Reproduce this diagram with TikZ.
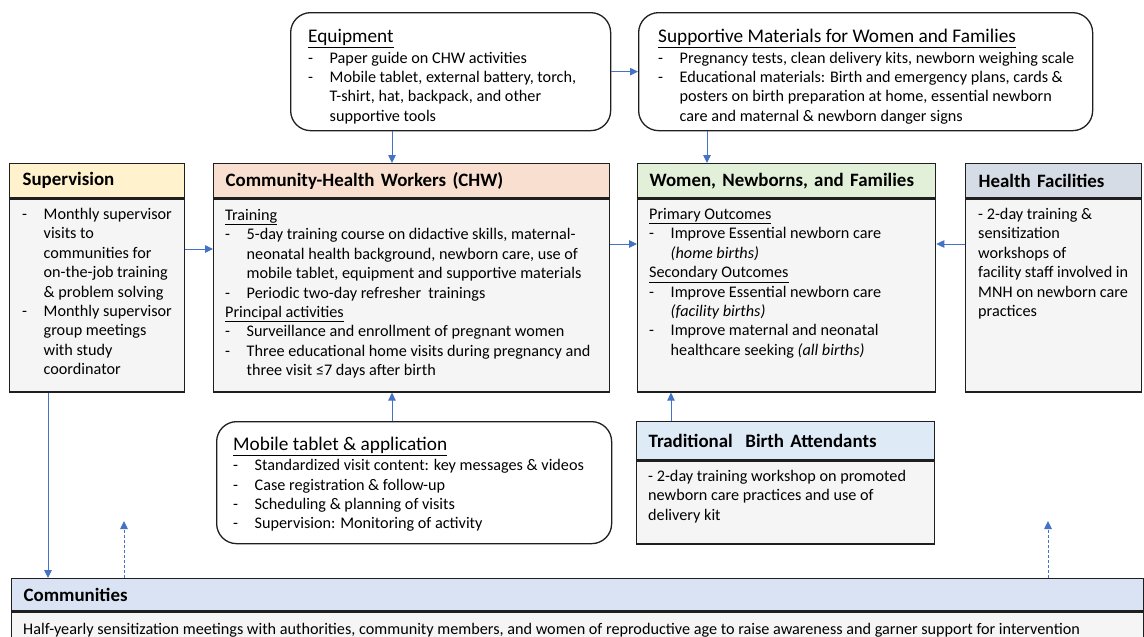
\documentclass[tikz,border=0pt]{standalone}
\usepackage{fontspec}
\setmainfont{Carlito}
\usetikzlibrary{arrows.meta,positioning}

\definecolor{arrblue}{HTML}{4472C4}
\definecolor{bodygray}{HTML}{F5F5F5}
\definecolor{edgegray}{HTML}{1F1F1F}
\definecolor{supyellow}{HTML}{FFF2CC}
\definecolor{chwpeach}{HTML}{F9DFCF}
\definecolor{womgreen}{HTML}{E2F0D9}
\definecolor{hfgray}{HTML}{D6DCE5}
\definecolor{tbablue}{HTML}{DEEBF7}
\definecolor{comblue}{HTML}{DAE3F3}

\newcommand{\bodyfont}{\fontsize{16.2pt}{19.4pt}\selectfont}
\newcommand{\headfont}{\fontsize{18.9pt}{21pt}\selectfont\bfseries}
\newcommand{\titlefont}{\fontsize{19.3pt}{21pt}\selectfont}
\newcommand{\dsh}{\makebox[21.5pt][l]{-}}
\newcommand{\ind}{\hspace*{21.5pt}}
\newcommand{\fl}{\rule{0pt}{16pt}}

\begin{document}
\begin{tikzpicture}[x=1pt, y=-1pt,
    head/.style={draw=edgegray, line width=1.3pt, anchor=north west, inner ysep=0pt, font=\headfont, align=left},
    frame/.style={draw=edgegray, line width=1.3pt, fill=bodygray, anchor=north west, inner sep=0pt},
    roundbox/.style={draw=edgegray, line width=1.3pt, fill=white, rounded corners=20pt, anchor=north west, inner sep=0pt},
    txt/.style={anchor=north west, align=left, inner sep=0pt, font=\bodyfont},
    arr/.style={draw=arrblue, line width=0.9pt, -{Triangle[length=8pt,width=7.5pt]}},
    dasharr/.style={arr, dash pattern=on 3pt off 2pt}]

    \useasboundingbox (0,0) rectangle (1144,637);

    % top row
    \node[roundbox, minimum width=320, minimum height=118] at (290,12) (equip) {};
    \node[roundbox, minimum width=454, minimum height=118] at (638,12) (supp) {};

    \node[txt] at ([shift={(18,14)}]equip.north west) (equipt) {\fl{\titlefont\underline{Equipment}}\\[1.5pt]
        \dsh Paper guide on CHW activities\\
        \dsh Mobile tablet, external battery, torch,\\
        \ind T-shirt, hat, backpack, and other\\
        \ind supportive tools};
    \node[txt] at ([shift={(20,14)}]supp.north west) (suppt) {\fl{\titlefont\underline{Supportive Materials for Women and Families}}\\[1.5pt]
        \dsh Pregnancy tests, clean delivery kits, newborn weighing scale\\
        \dsh Educational materials: Birth and emergency plans, cards \&\\
        \ind posters on birth preparation at home, essential newborn\\
        \ind care and maternal \& newborn danger signs};

    % middle row
    \node[head, fill=supyellow, minimum height=34, inner xsep=13pt, text width=149pt] at (9,163) (suph) {Supervision};
    \node[frame, minimum width=175, minimum height=193] at (suph.south west) (sup) {};
    \node[head, fill=chwpeach, minimum height=34, inner xsep=12pt, text width=372pt] at (213,163) (chwh) {Community-Health Workers (CHW)};
    \node[frame, minimum width=396, minimum height=193] at (chwh.south west) (chw) {};
    \node[head, fill=womgreen, minimum height=34, inner xsep=12pt, text width=274pt] at (637,163) (womh) {Women, Newborns, and Families};
    \node[frame, minimum width=298, minimum height=193] at (womh.south west) (wom) {};
    \node[head, fill=hfgray, minimum height=34, inner xsep=13pt, text width=150pt] at (965,163) (hfh) {Health Facilities};
    \node[frame, minimum width=176, minimum height=193] at (hfh.south west) (hf) {};

    \node[txt] at ([shift={(13,5)}]sup.north west) (supt) {\fl\dsh Monthly supervisor\\
        \ind visits to\\
        \ind communities for\\
        \ind on-the-job training\\
        \ind \& problem solving\\
        \dsh Monthly supervisor\\
        \ind group meetings\\
        \ind with study\\
        \ind coordinator};
    \node[txt] at ([shift={(12,6)}]chw.north west) (chwt) {\fl\underline{Training}\\
        \dsh 5-day training course on didactive skills, maternal-\\
        \ind neonatal health background, newborn care, use of\\
        \ind mobile tablet, equipment and supportive materials\\
        \dsh Periodic two-day refresher\ \ trainings\\
        \underline{Principal activities}\\
        \dsh Surveillance and enrollment of pregnant women\\
        \dsh Three educational home visits during pregnancy and\\
        \ind three visit ≤7 days after birth};
    \node[txt] at ([shift={(12,5)}]wom.north west) (womt) {\fl\underline{Primary Outcomes}\\
        \dsh Improve Essential newborn care\\
        \ind \textit{(home births)}\\
        \underline{Secondary Outcomes}\\
        \dsh Improve Essential newborn care\\
        \ind \textit{(facility births)}\\
        \dsh Improve maternal and neonatal\\
        \ind healthcare seeking \textit{(all births)}};
    \node[txt] at ([shift={(13,5)}]hf.north west) (hft) {\fl- 2-day training \&\\
        sensitization\\
        workshops of\\
        facility staff involved in\\
        MNH on newborn care\\
        practices};

    % lower row
    \node[roundbox, minimum width=395, minimum height=122] at (216,421) (mob) {};
    \node[txt] at ([shift={(17,13)}]mob.north west) (mobt) {\fl{\titlefont\underline{Mobile tablet \& application}}\\[1pt]
        \dsh Standardized visit content: key messages \& videos\\
        \dsh Case registration \& follow-up\\
        \dsh Scheduling \& planning of visits\\
        \dsh Supervision: Monitoring of activity};
    \node[head, fill=tbablue, minimum height=38, inner xsep=12pt, text width=274pt] at (636,421) (tbah) {Traditional\ \ Birth Attendants};
    \node[frame, minimum width=298, minimum height=83] at (tbah.south west) (tba) {};
    \node[txt] at ([shift={(12,5)}]tba.north west) (tbat) {\fl- 2-day training workshop on promoted\\
        newborn care practices and use of\\
        delivery kit};

    % communities
    \node[head, fill=comblue, minimum height=32, inner xsep=12pt, text width=1108pt] at (11,578) (comh) {Communities};
    \node[frame, minimum width=1132, minimum height=40] at (comh.south west) (com) {};
    \node[txt] at ([shift={(12,7)}]com.north west) (comt) {\fl Half-yearly sensitization meetings with authorities, community members, and women of reproductive age to raise awareness and garner support for intervention};

    % connectors
    \coordinate (xa) at (392,0);
    \coordinate (xb) at (707,0);
    \coordinate (xc) at (671,0);
    \coordinate (xd) at (48,0);
    \coordinate (xe) at (124,0);
    \coordinate (xf) at (1048,0);
    \coordinate (ya) at (0,249);
    \coordinate (yb) at (0,244);
    \coordinate (tipl) at (124,521);
    \coordinate (tipr) at (1048,521);

    \draw[arr] (equip.south -| xa) -- (chwh.north -| xa);
    \draw[arr] (equip.east) -- (supp.west);
    \draw[arr] (supp.south -| xb) -- (womh.north -| xb);
    \draw[arr] (sup.east |- ya) -- (chw.west |- ya);
    \draw[arr] (chw.east |- yb) -- (wom.west |- yb);
    \draw[arr] (hf.west |- yb) -- (wom.east |- yb);
    \draw[arr] (mob.north -| xa) -- (chw.south -| xa);
    \draw[arr] (tbah.north -| xc) -- (wom.south -| xc);
    \draw[arr] (sup.south -| xd) -- (comh.north -| xd);
    \draw[dasharr] (comh.north -| xe) -- (tipl);
    \draw[dasharr] (comh.north -| xf) -- (tipr);
\end{tikzpicture}
\end{document}
